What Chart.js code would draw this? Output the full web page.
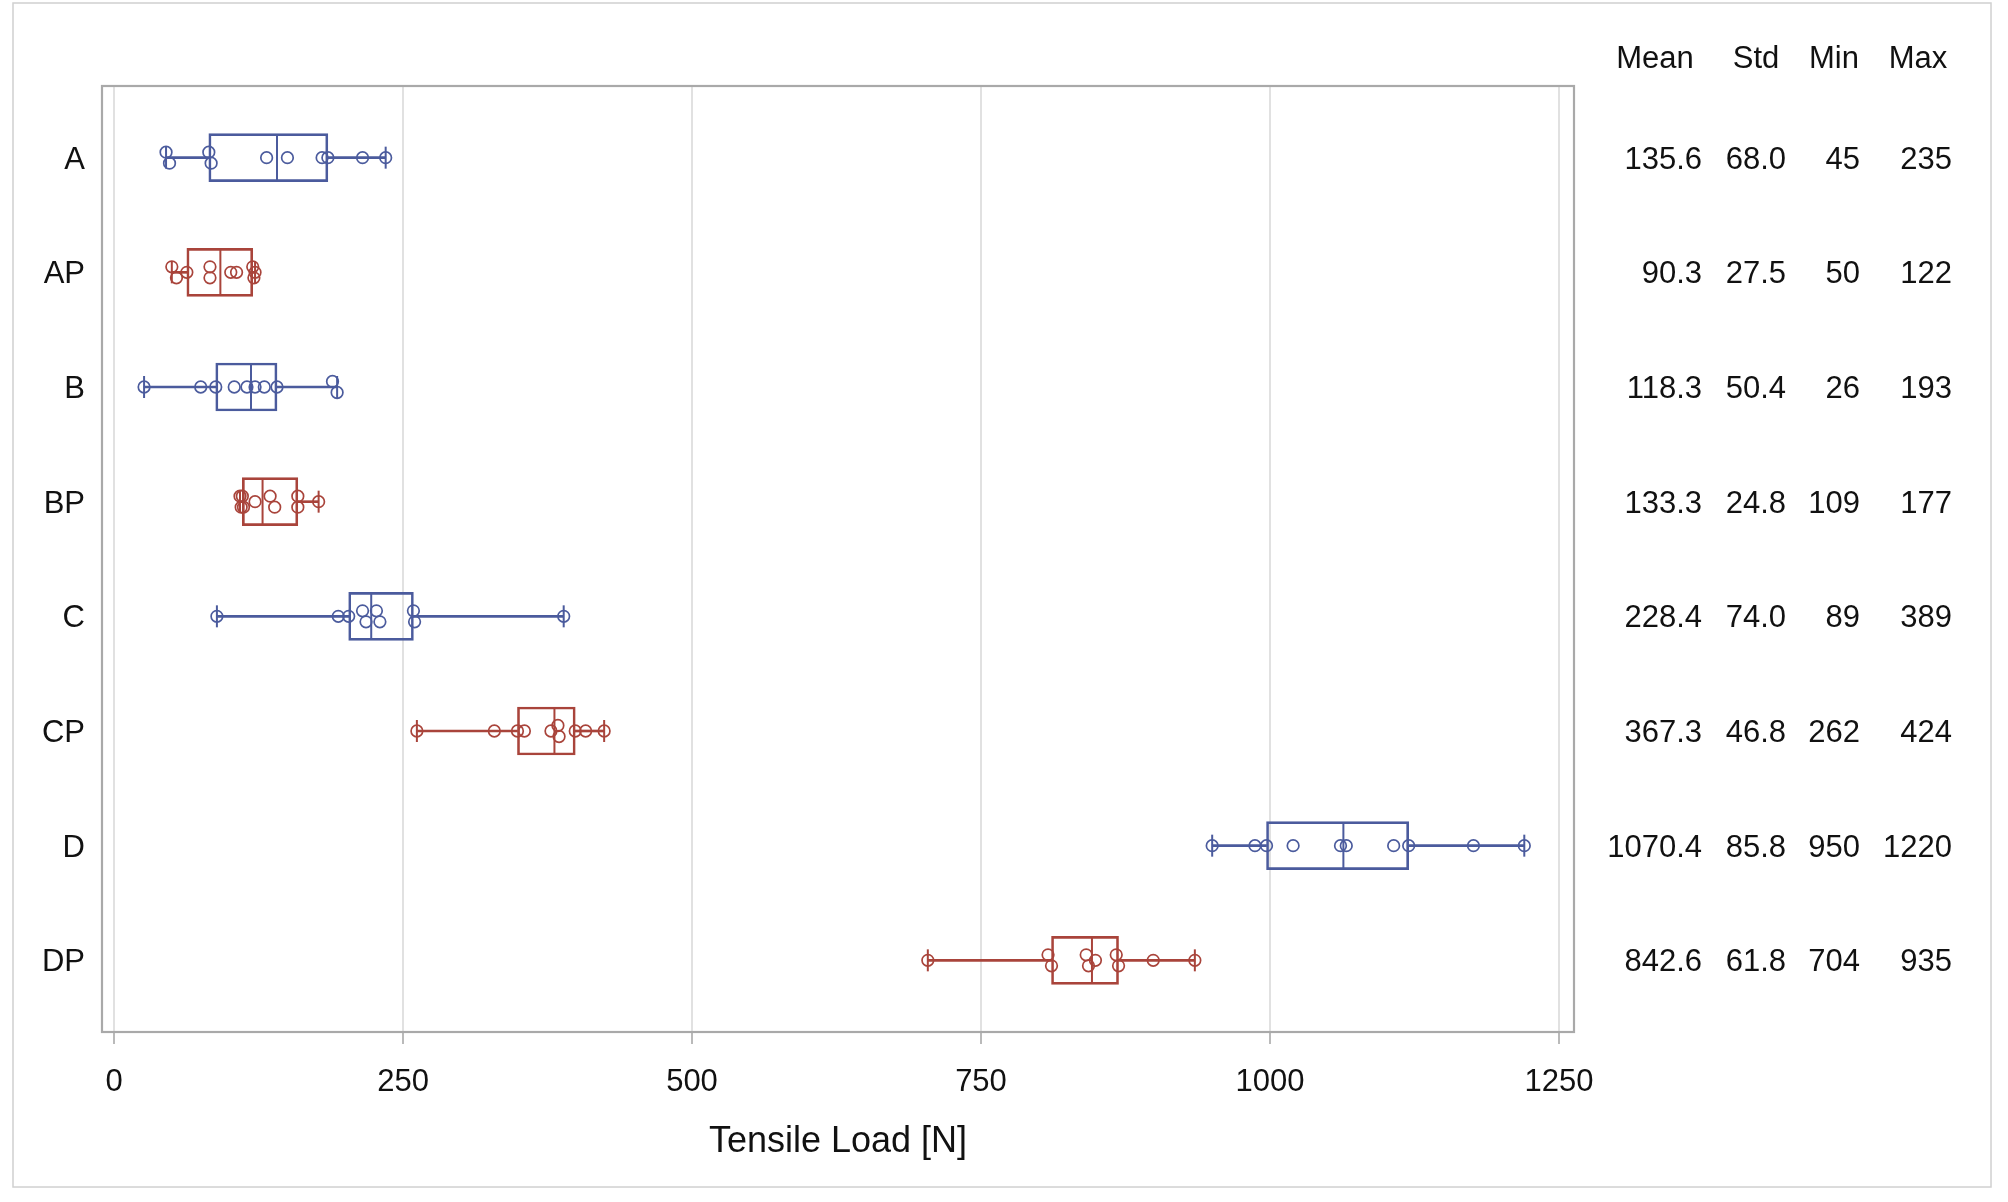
<!DOCTYPE html>
<html>
<head>
<meta charset="utf-8">
<script src="https://cdn.jsdelivr.net/npm/chart.js@4"></script>
<style>
  html, body { margin: 0; padding: 0; background: #fff; }
  canvas { display: block; }
</style>
</head>
<body>
<canvas id="c" width="2008" height="1202"></canvas>
<script>
// ---------------- data ----------------
const groups = ['A', 'AP', 'B', 'BP', 'C', 'CP', 'D', 'DP'];
const loadA  = [45, 48, 82, 84, 132, 150, 180, 185, 215, 235];
const loadAP = [50, 54, 63, 83, 83, 101, 106, 120, 121, 122];
const loadB  = [26, 75, 88, 104, 115, 122, 130, 141, 189, 193];
const loadBP = [109, 110, 111, 112, 122, 135, 139, 159, 159, 177];
const loadC  = [89, 194, 203, 215, 218, 227, 230, 259, 260, 389];
const loadCP = [262, 329, 349, 355, 378, 384, 385, 399, 408, 424];
const loadD  = [950, 987, 997, 1020, 1061, 1066, 1107, 1120, 1176, 1220];
const loadDP = [704, 808, 811, 841, 843, 849, 867, 869, 899, 935];
const groupValues = [loadA, loadAP, loadB, loadBP, loadC, loadCP, loadD, loadDP];

const xTickValues = [0, 250, 500, 750, 1000, 1250];
const statHeaders = ['Mean', 'Std', 'Min', 'Max'];
const meanText = ['135.6', '90.3', '118.3', '133.3', '228.4', '367.3', '1070.4', '842.6'];
const stdText  = ['68.0', '27.5', '50.4', '24.8', '74.0', '46.8', '85.8', '61.8'];
const minText  = ['45', '50', '26', '109', '89', '262', '950', '704'];
const maxText  = ['235', '122', '193', '177', '389', '424', '1220', '935'];
const axisTitle = 'Tensile Load [N]';

// ---------------- styling ----------------
const BLUE = '#4b5b9d';
const RED = '#a9443b';
const groupColor = groups.map((g, i) => (i % 2 === 0 ? BLUE : RED));
const FONT = "'Liberation Sans', Arial, Helvetica, sans-serif";
const TEXT = '#111111';

// ---------------- statistics (SAS percentile def. 5) ----------------
function pctl(sorted, p) {
  const n = sorted.length, np = n * p, j = Math.floor(np), g = np - j;
  if (g > 1e-9) return sorted[j];
  return (sorted[j - 1] + sorted[j]) / 2;
}
const sortedVals = groupValues.map(v => v.slice().sort((a, b) => a - b));
const stats = sortedVals.map(s => ({
  min: s[0], max: s[s.length - 1],
  q1: pctl(s, 0.25), med: pctl(s, 0.5), q3: pctl(s, 0.75)
}));

// vertical jitter for overlapping markers
function jitterSigns(s) {
  const offs = new Array(s.length).fill(0);
  let start = 0;
  for (let i = 1; i <= s.length; i++) {
    if (i === s.length || s[i] - s[i - 1] > 4) {
      const k = i - start;
      if (k > 1) {
        for (let j = 0; j < k; j++) {
          offs[start + j] = (k === 3 && j === 2) ? 0 : (j % 2 === 0 ? -1 : 1);
        }
      }
      start = i;
    }
  }
  return offs;
}
const JIT = 0.048;

const boxData = [], lowData = [], highData = [], capData = [], capColors = [],
      medData = [], ptData = [], ptColors = [];
stats.forEach((st, i) => {
  boxData.push({ x: [st.q1, st.q3], y: i });
  lowData.push({ x: [st.min, st.q1], y: i });
  highData.push({ x: [st.q3, st.max], y: i });
  capData.push({ x: st.min, y: i }, { x: st.max, y: i });
  capColors.push(groupColor[i], groupColor[i]);
  medData.push({ x: st.med, y: i });
  const s = sortedVals[i];
  const js = jitterSigns(s);
  s.forEach((v, k) => {
    ptData.push({ x: v, y: i + js[k] * JIT });
    ptColors.push(groupColor[i]);
  });
});

// ---------------- plugins ----------------
const decor = {
  id: 'decor',
  beforeDraw(chart) {
    const ctx = chart.ctx;
    ctx.save();
    ctx.fillStyle = '#ffffff';
    ctx.fillRect(0, 0, chart.width, chart.height);
    ctx.strokeStyle = '#d0d0d0';
    ctx.lineWidth = 1.5;
    ctx.strokeRect(13, 3, 1978, 1184);
    ctx.restore();
  },
  beforeDatasetsDraw(chart) {
    const { ctx, chartArea: a } = chart;
    ctx.save();
    ctx.strokeStyle = '#a9a9a9';
    ctx.lineWidth = 2.2;
    ctx.strokeRect(a.left, a.top, a.right - a.left, a.bottom - a.top);
    ctx.restore();
  },
  afterDraw(chart) {
    const ctx = chart.ctx;
    const yScale = chart.scales.y;
    const headerCenters = [1655, 1756, 1834, 1918];
    const colRight = [1702, 1786, 1860, 1952];
    const cols = [meanText, stdText, minText, maxText];
    ctx.save();
    ctx.fillStyle = TEXT;
    ctx.font = '31px ' + FONT;
    ctx.textBaseline = 'middle';
    ctx.textAlign = 'center';
    statHeaders.forEach((h, c) => ctx.fillText(h, headerCenters[c], 59));
    ctx.textAlign = 'right';
    groups.forEach((g, i) => {
      const y = yScale.getPixelForValue(i) + 2.5;
      cols.forEach((col, c) => ctx.fillText(col[i], colRight[c], y));
    });
    ctx.restore();
  }
};

// ---------------- chart ----------------
Chart.defaults.font.family = FONT;
Chart.defaults.color = TEXT;

new Chart(document.getElementById('c'), {
  type: 'bar',
  data: {
    datasets: [
      {
        type: 'scatter', label: 'points', data: ptData,
        pointStyle: 'circle', pointRadius: 5.8, pointBorderWidth: 1.7,
        pointBorderColor: ptColors, pointBackgroundColor: 'rgba(0,0,0,0)', order: 0
      },
      {
        type: 'scatter', label: 'median', data: medData,
        pointStyle: 'line', pointRotation: 90, pointRadius: 23, pointBorderWidth: 2,
        pointBorderColor: groupColor, order: 1
      },
      {
        type: 'scatter', label: 'caps', data: capData,
        pointStyle: 'line', pointRotation: 90, pointRadius: 11, pointBorderWidth: 2,
        pointBorderColor: capColors, order: 2
      },
      {
        type: 'bar', label: 'box', data: boxData, indexAxis: 'y',
        backgroundColor: 'rgba(0,0,0,0)', borderColor: groupColor, borderWidth: 2,
        borderSkipped: false, barThickness: 48, grouped: false, order: 3
      },
      {
        type: 'bar', label: 'whiskerLow', data: lowData, indexAxis: 'y',
        backgroundColor: groupColor, borderWidth: 0, barThickness: 2, grouped: false, order: 4
      },
      {
        type: 'bar', label: 'whiskerHigh', data: highData, indexAxis: 'y',
        backgroundColor: groupColor, borderWidth: 0, barThickness: 2, grouped: false, order: 5
      }
    ]
  },
  options: {
    indexAxis: 'y',
    responsive: false,
    animation: false,
    events: [],
    layout: { padding: { left: 0, top: 86, right: 434, bottom: 38 } },
    plugins: { legend: { display: false }, tooltip: { enabled: false } },
    scales: {
      x: {
        type: 'linear', min: -10.4, max: 1263, offset: false, beginAtZero: false,
        afterBuildTicks: s => { s.ticks = xTickValues.map(v => ({ value: v })); },
        afterFit: s => { s.height = 132; },
        grid: {
          color: '#e1e1e1', lineWidth: 2, offset: false,
          drawTicks: true, tickLength: 12, tickColor: '#a9a9a9', tickWidth: 1.6
        },
        border: { display: false },
        ticks: { font: { size: 31 }, color: TEXT, padding: 19.5, maxRotation: 0, autoSkip: false,
                 callback: v => String(v) },
        title: { display: true, text: axisTitle, font: { size: 36 }, color: TEXT, padding: { top: 0, bottom: 0 } }
      },
      y: {
        type: 'linear', min: -0.625, max: 7.625, reverse: true, offset: false,
        afterBuildTicks: s => { s.ticks = groups.map((g, i) => ({ value: i })); },
        afterFit: s => { s.width = 102; },
        grid: { display: false, drawTicks: false, offset: false },
        border: { display: false },
        ticks: { font: { size: 31 }, color: TEXT, padding: 17, autoSkip: false, labelOffset: 2.5,
                 callback: v => groups[v] }
      }
    }
  },
  plugins: [decor]
});
</script>
</body>
</html>
